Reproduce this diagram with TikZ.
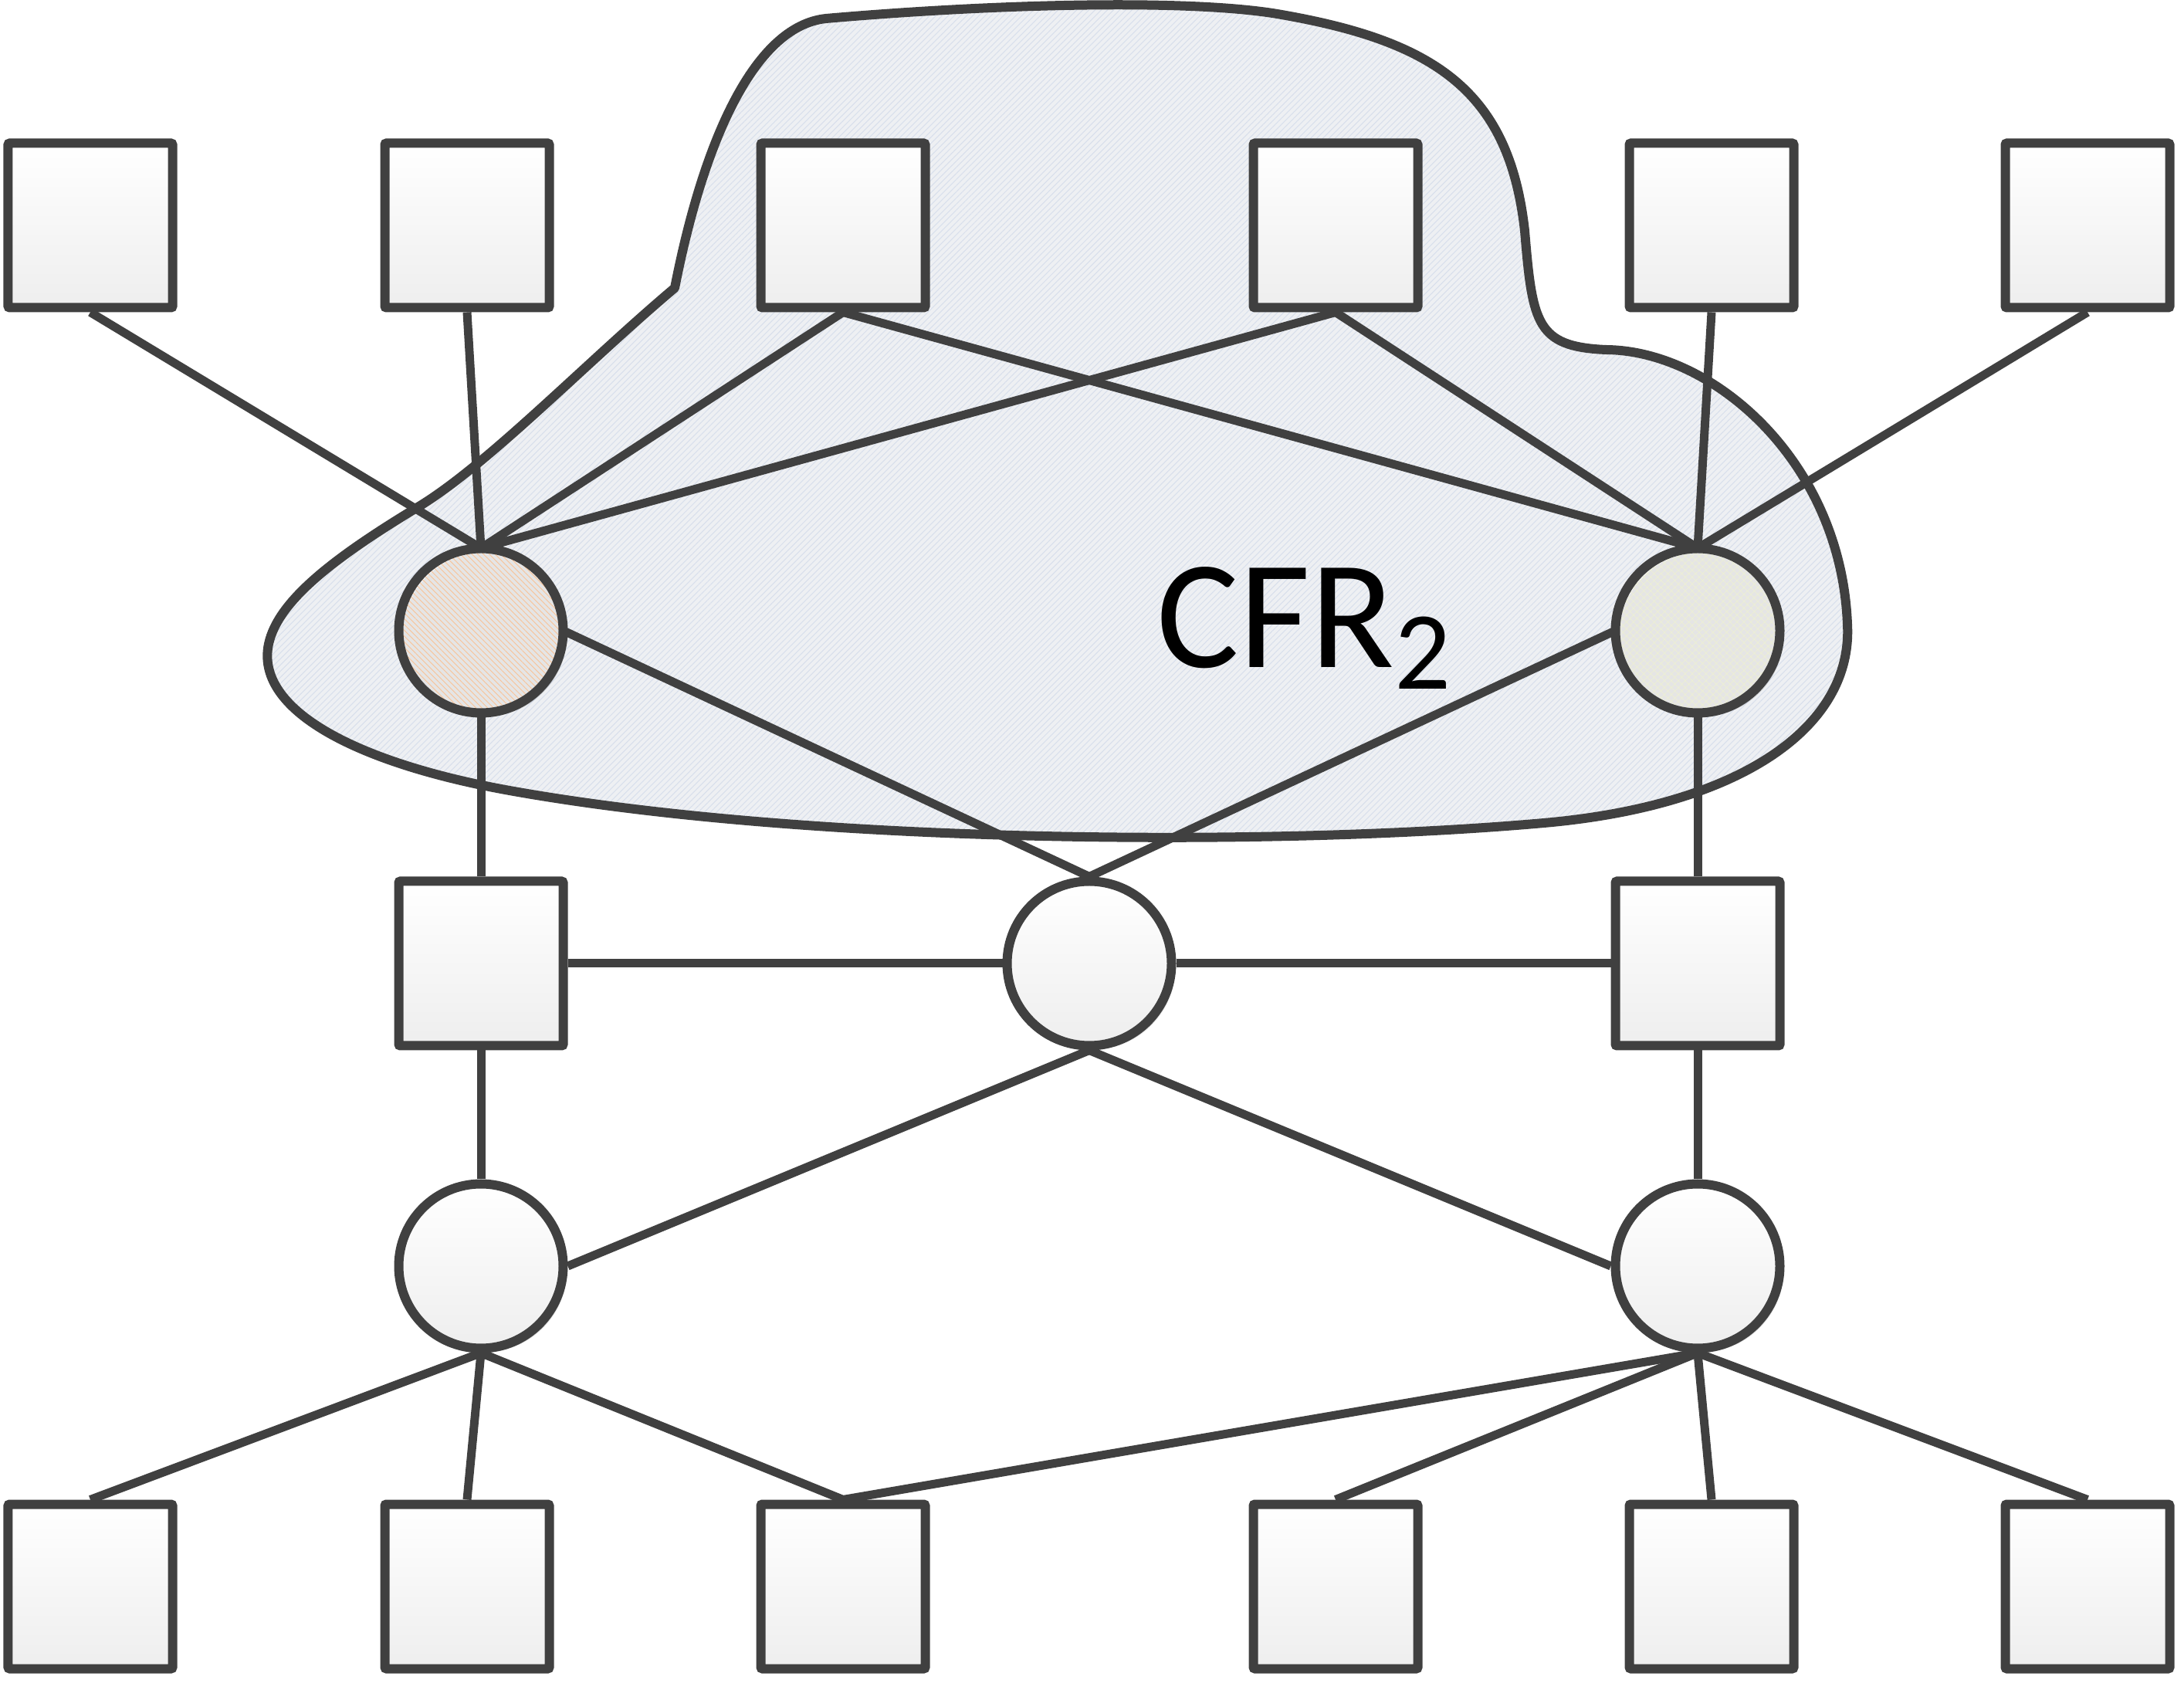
\documentclass[tikz,border=0pt]{standalone}
\usepackage{fontspec}
\setmainfont{Carlito}
\usetikzlibrary{shadows,patterns.meta}
\definecolor{linegray}{HTML}{404040}
\definecolor{boxgray}{HTML}{EEEEEE}
\definecolor{cloudbg}{HTML}{EEF0F3}
\definecolor{hatchblue}{HTML}{D8DFEC}
\definecolor{hatchorange}{HTML}{F9C296}
\definecolor{hatchgreen}{HTML}{ECEED6}

\begin{document}
\begin{tikzpicture}[
    every node/.style={inner sep=0pt},
    box/.style={draw=linegray, line width=0.12cm, rectangle, rounded corners=0.6pt, minimum size=2.13cm,
      top color=white, bottom color=boxgray,
      drop shadow={shadow xshift=0.05cm, shadow yshift=-0.05cm, fill=black, opacity=0.1}},
    hubnode/.style={draw=linegray, line width=0.12cm, circle, minimum size=2.13cm,
      top color=white, bottom color=boxgray,
      drop shadow={shadow xshift=0.05cm, shadow yshift=-0.05cm, fill=black, opacity=0.1}},
    cfrnode/.style={draw=linegray, line width=0.12cm, circle, minimum size=2.13cm,
      preaction={fill=white},
      drop shadow={shadow xshift=0.05cm, shadow yshift=-0.05cm, fill=black, opacity=0.1}},
    link/.style={draw=linegray, line width=0.11cm}
  ]
  \useasboundingbox (0,0) rectangle (28.29,21.79);

  % CFR region
  \draw[linegray, line width=0.12cm, line join=round, preaction={fill=cloudbg},
    pattern={Lines[angle=45, distance=1.6pt, line width=0.3pt]}, pattern color=hatchblue]
    (8.74,18.06) .. controls (9.1,19.9) and (9.75,21.45) .. (10.7,21.55)
    .. controls (13,21.75) and (15.5,21.8) .. (16.6,21.6)
    .. controls (18.6,21.25) and (19.55,20.6) .. (19.75,18.8)
    .. controls (19.85,17.6) and (19.9,17.3) .. (20.8,17.26)
    .. controls (22.2,17.25) and (23.85,15.8) .. (23.93,13.7)
    .. controls (24.0,12.4) and (22.6,11.36) .. (20.0,11.13)
    .. controls (16.5,10.82) and (10.5,10.85) .. (6.6,11.55)
    .. controls (4.6,11.91) and (3.3,12.6) .. (3.48,13.45)
    .. controls (3.6,14.0) and (4.3,14.55) .. (5.41,15.22)
    .. controls (6.31,15.76) and (7.6,17.1) .. cycle;

  % nodes
  \node[box] (top1) at (1.17,18.87) {};
  \node[box] (top2) at (6.05,18.87) {};
  \node[box] (top3) at (10.92,18.87) {};
  \node[box] (top4) at (17.30,18.87) {};
  \node[box] (top5) at (22.17,18.87) {};
  \node[box] (top6) at (27.04,18.87) {};
  \node[cfrnode, pattern={Lines[angle=-45, distance=1.5pt, line width=0.25pt]}, pattern color=hatchorange] (ctrL) at (6.23,13.62) {};
  \node[cfrnode, pattern={Hatch[angle=45, distance=1.8pt, line width=0.25pt]}, pattern color=hatchgreen] (ctrR) at (21.99,13.62) {};
  \node[box] (sqL) at (6.23,9.31) {};
  \node[hubnode] (hub) at (14.11,9.31) {};
  \node[box] (sqR) at (21.99,9.31) {};
  \node[hubnode] (lowL) at (6.23,5.39) {};
  \node[hubnode] (lowR) at (21.99,5.39) {};
  \node[box] (bot1) at (1.17,1.24) {};
  \node[box] (bot2) at (6.05,1.24) {};
  \node[box] (bot3) at (10.92,1.24) {};
  \node[box] (bot4) at (17.30,1.24) {};
  \node[box] (bot5) at (22.17,1.24) {};
  \node[box] (bot6) at (27.04,1.24) {};

  \node[anchor=base west, font=\fontsize{57}{60}\selectfont] (cfr) at (14.98,13.14)
    {CFR\raisebox{-7.7pt}{\fontsize{41}{44}\selectfont 2}};

  % links
  \draw[link] (top1.south) -- (ctrL.north);
  \draw[link] (top2.south) -- (ctrL.north);
  \draw[link] (top3.south) -- (ctrL.north);
  \draw[link] (top4.south) -- (ctrL.north);
  \draw[link] (top3.south) -- (ctrR.north);
  \draw[link] (top4.south) -- (ctrR.north);
  \draw[link] (top5.south) -- (ctrR.north);
  \draw[link] (top6.south) -- (ctrR.north);
  \draw[link] (ctrL.east) -- (hub.north);
  \draw[link] (ctrR.west) -- (hub.north);
  \draw[link] (ctrL.south) -- (sqL.north);
  \draw[link] (ctrR.south) -- (sqR.north);
  \draw[link] (sqL.east) -- (hub.west);
  \draw[link] (hub.east) -- (sqR.west);
  \draw[link] (sqL.south) -- (lowL.north);
  \draw[link] (sqR.south) -- (lowR.north);
  \draw[link] (hub.south) -- (lowL.east);
  \draw[link] (hub.south) -- (lowR.west);
  \draw[link] (lowL.south) -- (bot1.north);
  \draw[link] (lowL.south) -- (bot2.north);
  \draw[link] (lowL.south) -- (bot3.north);
  \draw[link] (lowR.south) -- (bot3.north);
  \draw[link] (lowR.south) -- (bot4.north);
  \draw[link] (lowR.south) -- (bot5.north);
  \draw[link] (lowR.south) -- (bot6.north);
\end{tikzpicture}
\end{document}
